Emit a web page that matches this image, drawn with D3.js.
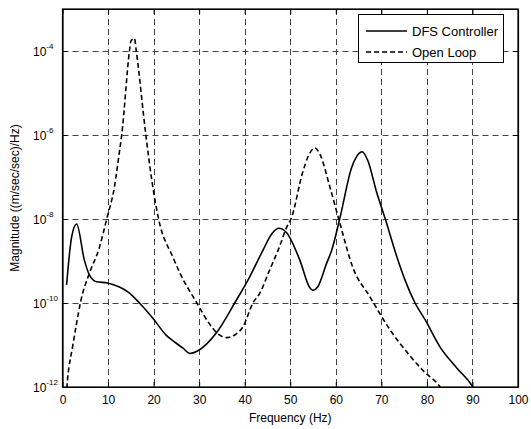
<!DOCTYPE html>
<html>
	<head>
		<meta charset="UTF-8">
		<title>DFS Controller vs Open Loop</title>
		<script type="text/javascript" src="https://cdn.jsdelivr.net/npm/d3@7"></script>
		<style>
			body { margin: 0; background: #fff; }
			text { font-family: "Liberation Sans", Arial, sans-serif; fill: #000; }
		</style>
	</head>
	<body>
		<script>
			//values
			var dfsFreq = [0.9, 2.0, 3.1, 4.8, 5.9, 7.5, 9.9, 12.5, 14.5, 16.9, 19.8, 22.8, 24.5, 26.4, 28.0, 30.0,
				33.8, 37.8, 41.1, 44.0, 46.0, 47.5, 49.2, 52.1, 54.3, 55.0, 56.0, 58.0, 59.1, 60.9, 63.5,
				65.8, 67.0, 69.0, 70.8, 73.4, 75.2, 77.4, 79.6, 82.9, 86.6, 90.1, 90.6];
			var dfsMag = [2.7e-10, 3.7e-9, 7.6e-9, 1.05e-9, 4.7e-10, 3.2e-10, 3.0e-10, 2.4e-10, 1.8e-10, 1.0e-10,
				4.4e-11, 1.7e-11, 1.2e-11, 8.5e-12, 6.3e-12, 7.6e-12, 1.95e-11, 1.0e-10, 4.2e-10, 1.8e-9,
				4.5e-9, 6.0e-9, 4.7e-9, 1.05e-9, 2.3e-10, 2.0e-10, 2.4e-10, 8.9e-10, 1.8e-9, 1.05e-8, 1.7e-7,
				4.0e-7, 2.5e-7, 4.2e-8, 1.05e-8, 1.26e-9, 3.5e-10, 1.0e-10, 4.0e-11, 8.9e-12, 2.8e-12, 1.0e-12, 8e-13];

			var olFreq = [0.8, 1.1, 2.2, 3.1, 4.0, 5.9, 8.1, 9.7, 11.4, 12.5, 13.0, 14.7, 15.0, 15.8, 16.2, 18.3,
				19.6, 21.1, 24.2, 25.8, 29.5, 32.0, 34.0, 36.0, 38.0, 39.6, 41.8, 43.3, 45.5, 47.5, 49.2,
				50.3, 52.7, 54.0, 55.4, 56.5, 58.7, 60.9, 63.7, 67.5, 71.9, 75.6, 79.1, 82.9, 83.5];
			var olMag = [6e-13, 1.5e-12, 8.9e-12, 3.3e-11, 1.1e-10, 5.1e-10, 2.1e-9, 1.0e-8, 5.8e-8, 4.0e-7, 1.0e-6,
				1.0e-4, 1.7e-4, 2.0e-4, 1.0e-4, 1.0e-6, 8.5e-8, 1.0e-8, 1.26e-9, 5.1e-10, 1.0e-10, 3.5e-11,
				1.9e-11, 1.5e-11, 1.8e-11, 2.7e-11, 1.0e-10, 1.7e-10, 6.2e-10, 2.0e-9, 6.3e-9, 1.1e-8, 1.26e-7,
				3.2e-7, 4.9e-7, 3.5e-7, 5.8e-8, 7.9e-9, 7.2e-10, 1.4e-10, 2.3e-11, 6.8e-12, 2.5e-12, 1.0e-12, 8e-13];

			var xTicks = [0, 10, 20, 30, 40, 50, 60, 70, 80, 90, 100];
			var yExponents = [-12, -10, -8, -6, -4];
			var seriesNames = ["DFS Controller", "Open Loop"];

			var w = 531;
			var h = 429;
			//plot box edges (window.top is taken, so own names)
			var pLeft = 62.5, pRight = 518, pTop = 9, pBottom = 387;

			var svg = d3.select("body")
				.append("svg")
				.attr("width", w)
				.attr("height", h);

			var xScale = d3.scaleLinear()
				.domain([0, 100])
				.range([pLeft, pRight]);

			var yScale = d3.scaleLog()
				.domain([1e-12, 1e-3])
				.range([pBottom, pTop]);

			//grid
			var grid = svg.append("g")
				.attr("stroke", "#444")
				.attr("stroke-width", 1)
				.attr("stroke-dasharray", "6,4");

			grid.selectAll("line.vx")
				.data(xTicks.slice(1, -1))
				.enter()
				.append("line")
				.attr("x1", function(d){ return Math.round(xScale(d)) + 0.5; })
				.attr("x2", function(d){ return Math.round(xScale(d)) + 0.5; })
				.attr("y1", pTop)
				.attr("y2", pBottom);

			grid.selectAll("line.hy")
				.data(yExponents.slice(1))
				.enter()
				.append("line")
				.attr("x1", pLeft)
				.attr("x2", pRight)
				.attr("y1", function(d){ return Math.round(yScale(Math.pow(10, d))) + 0.5; })
				.attr("y2", function(d){ return Math.round(yScale(Math.pow(10, d))) + 0.5; });

			//curves
			svg.append("clipPath")
				.attr("id", "plotclip")
				.append("rect")
				.attr("x", pLeft)
				.attr("y", pTop)
				.attr("width", pRight - pLeft)
				.attr("height", pBottom - pTop);

			var line = d3.line()
				.x(function(d){ return xScale(d[0]); })
				.y(function(d){ return yScale(d[1]); })
				.curve(d3.curveMonotoneX);

			var dfsData = d3.zip(dfsFreq, dfsMag);
			var olData = d3.zip(olFreq, olMag);

			svg.append("path")
				.datum(olData)
				.attr("clip-path", "url(#plotclip)")
				.attr("fill", "none")
				.attr("stroke", "#000")
				.attr("stroke-width", 1.6)
				.attr("stroke-dasharray", "5,3")
				.attr("d", line);

			svg.append("path")
				.datum(dfsData)
				.attr("clip-path", "url(#plotclip)")
				.attr("fill", "none")
				.attr("stroke", "#000")
				.attr("stroke-width", 1.6)
				.attr("d", line);

			//axes, ticks point inward like matlab
			var xAxis = d3.axisBottom(xScale).tickValues(xTicks).tickSize(-5).tickSizeOuter(0).tickPadding(8);
			var gx = svg.append("g")
				.attr("transform", "translate(0," + pBottom + ")")
				.call(xAxis);
			gx.selectAll("text").attr("font-size", "12px").attr("font-family", "Liberation Sans, Arial, sans-serif");

			svg.append("g")
				.attr("transform", "translate(0," + pTop + ")")
				.call(d3.axisTop(xScale).tickValues(xTicks).tickSize(-5).tickSizeOuter(0).tickFormat(""));

			var yVals = yExponents.map(function(e){ return Math.pow(10, e); });
			svg.append("g")
				.attr("transform", "translate(" + pLeft + ",0)")
				.call(d3.axisLeft(yScale).tickValues(yVals).tickSize(-5).tickSizeOuter(0).tickFormat(""));
			svg.append("g")
				.attr("transform", "translate(" + pRight + ",0)")
				.call(d3.axisRight(yScale).tickValues(yVals).tickSize(-5).tickSizeOuter(0).tickFormat(""));

			svg.selectAll(".domain").attr("stroke", "#000").attr("stroke-width", 1.2);
			svg.selectAll(".tick line").attr("stroke", "#000");

			//box
			svg.append("rect")
				.attr("x", pLeft)
				.attr("y", pTop)
				.attr("width", pRight - pLeft)
				.attr("height", pBottom - pTop)
				.attr("fill", "none")
				.attr("stroke", "#000")
				.attr("stroke-width", 1.2);

			//y tick labels 10^n
			var ylab = svg.selectAll("text.ylab")
				.data(yExponents)
				.enter()
				.append("text")
				.attr("class", "ylab")
				.attr("x", 33)
				.attr("y", function(d){ return yScale(Math.pow(10, d)) + 5; })
				.attr("font-size", "12px");
			ylab.append("tspan").text("10");
			ylab.append("tspan")
				.attr("dy", -7)
				.attr("font-size", "8px")
				.text(function(d){ return "-" + Math.abs(d); });

			//axis labels
			svg.append("text")
				.attr("x", (pLeft + pRight) / 2)
				.attr("y", 422)
				.attr("text-anchor", "middle")
				.attr("font-size", "12px")
				.text("Frequency (Hz)");

			svg.append("text")
				.attr("transform", "translate(19," + ((pTop + pBottom) / 2) + ") rotate(-90)")
				.attr("text-anchor", "middle")
				.attr("font-size", "12px")
				.text("Magnitude ((m/sec/sec)/Hz)");

			//legend
			var legend = svg.append("g");
			legend.append("rect")
				.attr("x", 358.5)
				.attr("y", 14.5)
				.attr("width", 145)
				.attr("height", 48)
				.attr("fill", "#fff")
				.attr("stroke", "#000")
				.attr("stroke-width", 1);

			var rows = legend.selectAll("g.row")
				.data(seriesNames)
				.enter()
				.append("g")
				.attr("transform", function(d, i){ return "translate(0," + (31 + i * 21) + ")"; });

			rows.append("line")
				.attr("x1", 366)
				.attr("x2", 407)
				.attr("stroke", "#000")
				.attr("stroke-width", 1.6)
				.attr("stroke-dasharray", function(d, i){ return i == 1 ? "5,3" : null; });

			rows.append("text")
				.attr("x", 412)
				.attr("y", 5)
				.attr("font-size", "13px")
				.text(function(d){ return d; });
		</script>
	</body>
</html>
